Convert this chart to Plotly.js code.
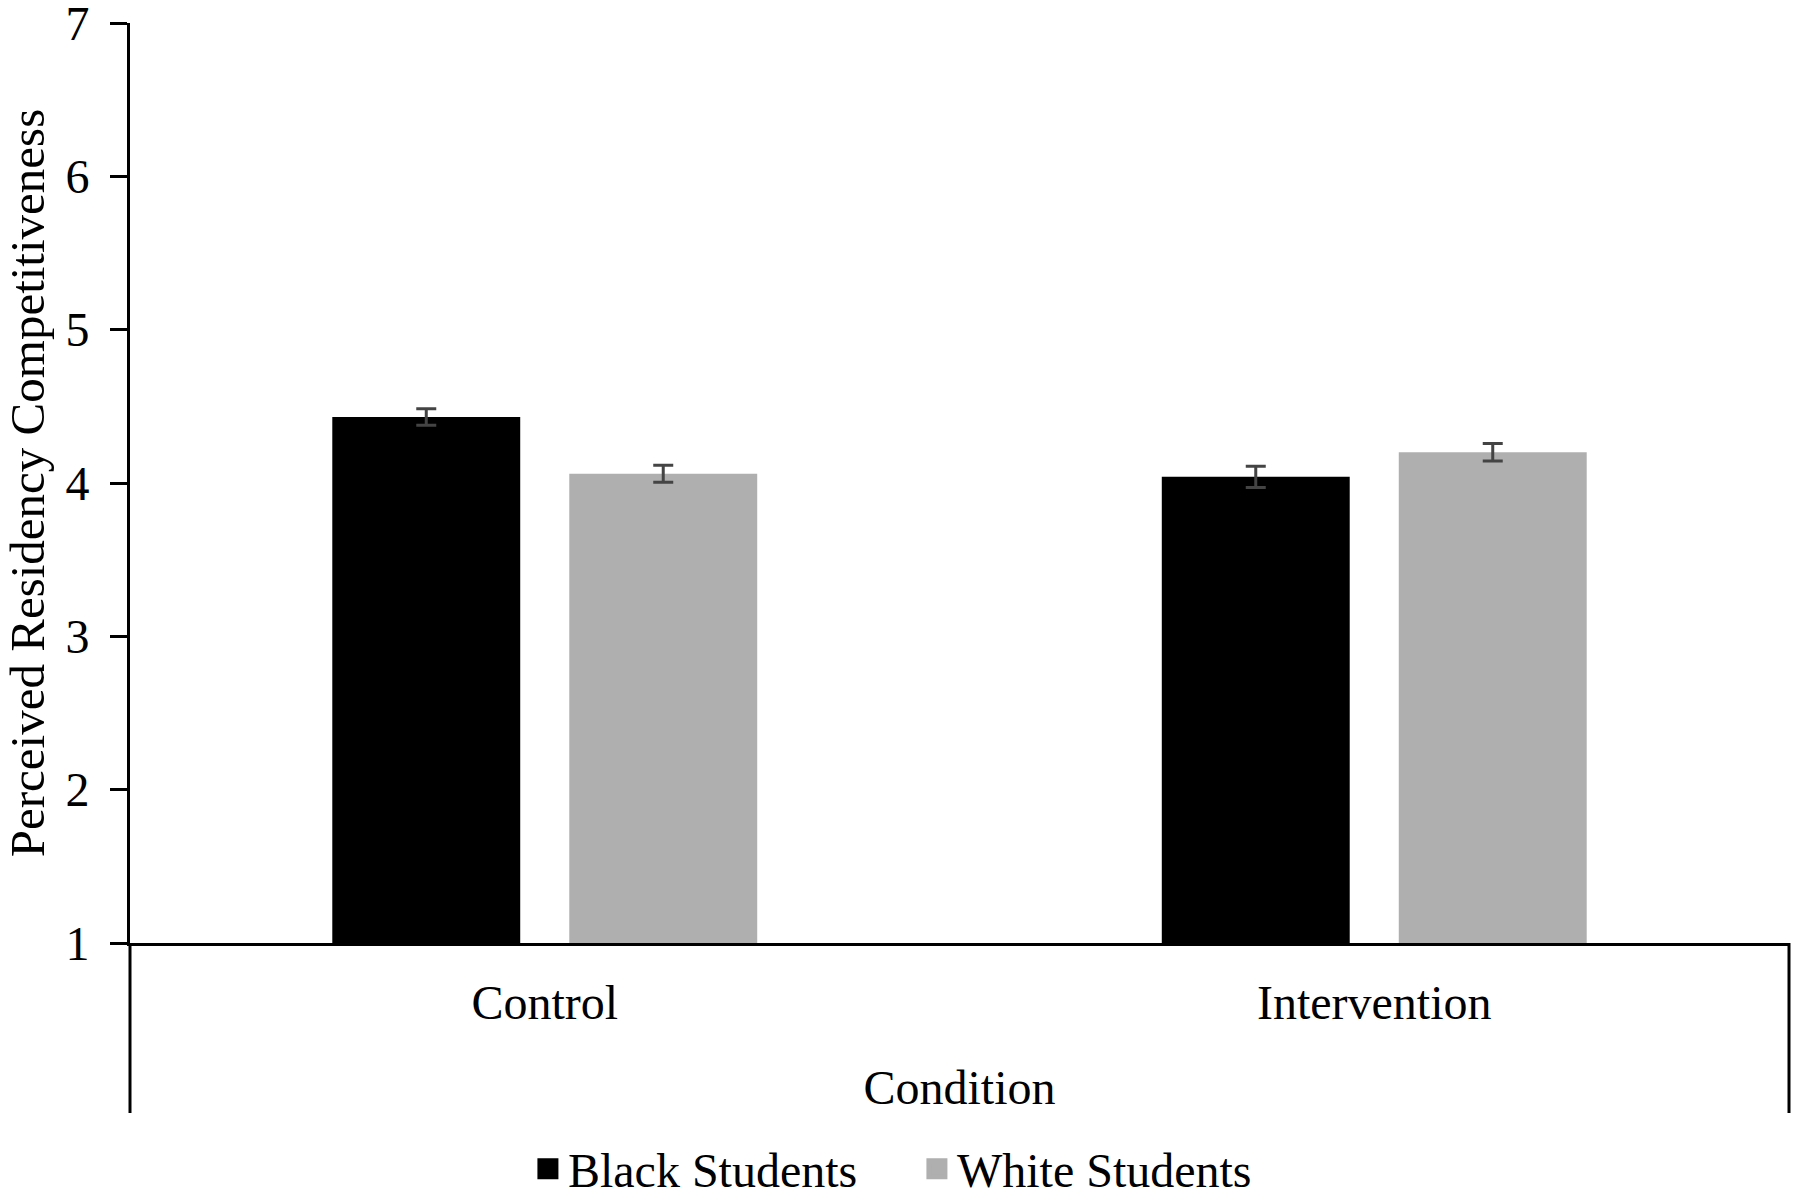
<!DOCTYPE html>
<html>
<head>
<meta charset="utf-8">
<script src="https://cdn.plot.ly/plotly-3.0.1.min.js"></script>
<style>
  html, body { margin: 0; padding: 0; background: #fff; }
  #chart { width: 1800px; height: 1197px; }
</style>
</head>
<body>
<div id="chart"></div>
<script>
// values
const conditions = ['Control', 'Intervention'];
const blackMeans = [4.43, 4.04];
const blackErr = [0.054, 0.07];
const whiteMeans = [4.06, 4.20];
const whiteErr = [0.055, 0.057];
const yTicks = [1, 2, 3, 4, 5, 6, 7];

const serif = 'Liberation Serif, Times New Roman, serif';
const black = '#000000';
const grey = '#afafaf';

let traces = [
  {
    type: 'bar',
    name: 'Black Students',
    x: conditions,
    y: blackMeans,
    marker: { color: black },
    showlegend: false,
    error_y: { type: 'data', array: blackErr, visible: true, color: '#444444', thickness: 3, width: 10 }
  },
  {
    type: 'bar',
    name: 'White Students',
    x: conditions,
    y: whiteMeans,
    marker: { color: grey },
    showlegend: false,
    error_y: { type: 'data', array: whiteErr, visible: true, color: '#444444', thickness: 3, width: 10 }
  },
  // legend-only entries so the swatches come out as big squares like the original
  {
    type: 'scatter', mode: 'markers', name: 'Black Students', x: [null], y: [null],
    marker: { symbol: 'square', size: 16, color: black, line: { color: black, width: 5 } }
  },
  {
    type: 'scatter', mode: 'markers', name: 'White Students', x: [null], y: [null],
    marker: { symbol: 'square', size: 16, color: grey, line: { color: grey, width: 5 } }
  }
];

// plot area is 920px tall, category box runs 170px below the x axis
const below = -170 / 920;

let layout = {
  width: 1800,
  height: 1197,
  margin: { l: 130, r: 11, t: 23, b: 254 },
  paper_bgcolor: '#ffffff',
  plot_bgcolor: '#ffffff',
  font: { family: serif, size: 48, color: '#000000' },
  barmode: 'group',
  bargap: 0.4286,
  bargroupgap: 0.207,
  showlegend: true,
  legend: {
    orientation: 'h',
    xref: 'container',
    yref: 'container',
    x: 0.5094,
    xanchor: 'center',
    y: 28 / 1197,
    yanchor: 'middle',
    entrywidth: 344,
    font: { family: serif, size: 48 },
    traceorder: 'normal'
  },
  xaxis: {
    type: 'category',
    showline: true,
    linecolor: black,
    linewidth: 3,
    ticks: '',
    showgrid: false,
    zeroline: false,
    ticklabelstandoff: 15,
    tickfont: { family: serif, size: 48 },
    title: { text: 'Condition', font: { family: serif, size: 48 }, standoff: 43 }
  },
  yaxis: {
    range: [1, 7],
    tickvals: yTicks,
    showline: true,
    linecolor: black,
    linewidth: 3,
    ticks: 'outside',
    ticklen: 17,
    tickwidth: 3,
    tickcolor: black,
    ticklabelstandoff: 11,
    ticklabeloverflow: 'allow',
    showgrid: false,
    zeroline: false,
    tickfont: { family: serif, size: 48 },
    title: { text: 'Perceived Residency Competitiveness', font: { family: serif, size: 49 }, standoff: 25 }
  },
  shapes: [
    { type: 'line', xref: 'paper', yref: 'paper', x0: 0, x1: 0, y0: 0, y1: below, line: { color: black, width: 3 } },
    { type: 'line', xref: 'paper', yref: 'paper', x0: 1, x1: 1, y0: 0, y1: below, line: { color: black, width: 3 } }
  ]
};

Plotly.newPlot('chart', traces, layout, { displayModeBar: false, staticPlot: true });
</script>
</body>
</html>
